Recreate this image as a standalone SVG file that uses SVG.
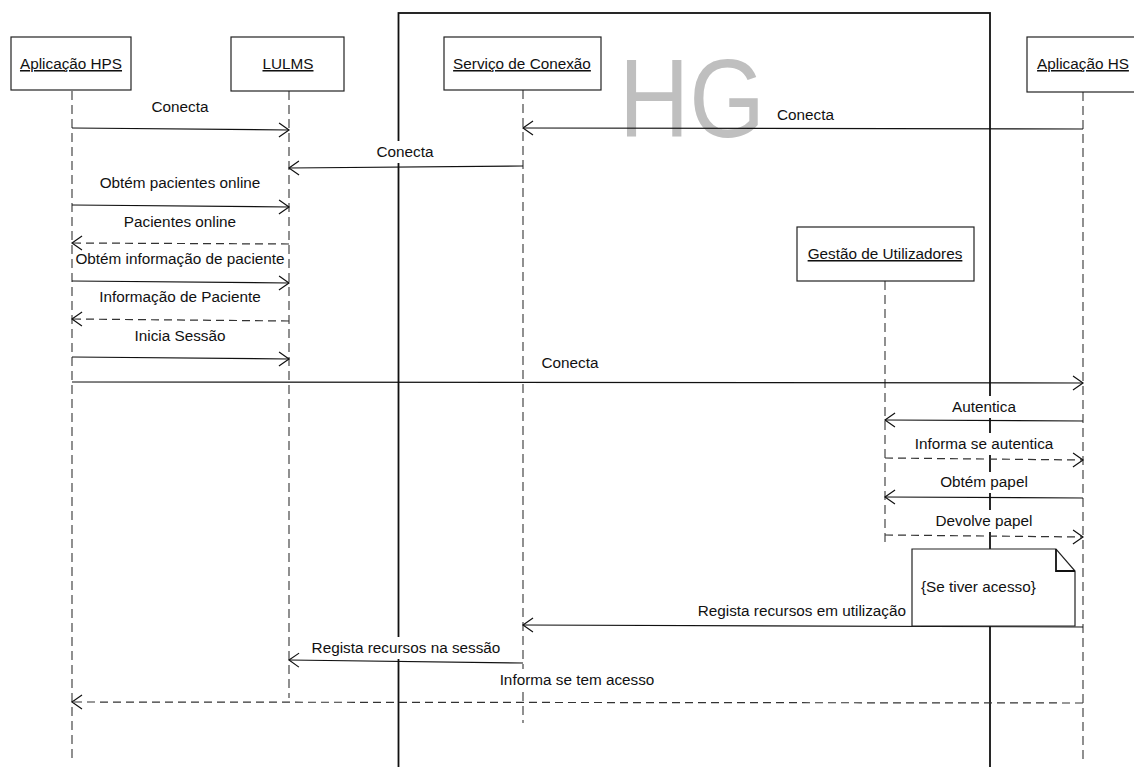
<svg xmlns="http://www.w3.org/2000/svg" width="1134" height="767" viewBox="0 0 1134 767">
  <style>
    text { font-family: "Liberation Sans", Arial, sans-serif; font-size: 15.3px; fill: #111; }
    .mid { text-anchor: middle; }
    .end { text-anchor: end; }
    .box { fill: #fff; stroke: #222; stroke-width: 1.2; }
    .life { stroke: #555; stroke-width: 1.3; stroke-dasharray: 9 5; fill: none; }
    .call { stroke: #111; stroke-width: 1.2; fill: none; marker-end: url(#open); }
    .ret { stroke: #333; stroke-width: 1.2; stroke-dasharray: 8 5; fill: none; marker-end: url(#open); }
    .bg { fill: #fff; }
    .frame { fill: none; stroke: #111; stroke-width: 1.8; }
  </style>
  <defs>
    <marker id="open" markerUnits="userSpaceOnUse" viewBox="-12 -9 14 18" refX="0" refY="0" markerWidth="14" markerHeight="18" orient="auto">
      <path d="M-10,-7 L0,0 L-10,7" fill="none" stroke="#111" stroke-width="1.2" stroke-dasharray="none"/>
    </marker>
  </defs>

  <rect width="1134" height="767" fill="#fff"/>

  <!-- HG boundary frame -->
  <g id="frame-hg">
    <rect class="frame" x="398.5" y="13" width="591.5" height="800"/>
    <text x="619" y="137" font-size="112" style="font-size:112px;fill:#bfbfbf" textLength="146" lengthAdjust="spacingAndGlyphs">HG</text>
  </g>

  <!-- lifelines -->
  <g id="lifelines">
    <line class="life" x1="72" y1="91" x2="72" y2="758"/>
    <line class="life" x1="289" y1="91" x2="289" y2="698"/>
    <line class="life" x1="523" y1="90" x2="523" y2="723"/>
    <line class="life" x1="885" y1="281" x2="885" y2="542"/>
    <line class="life" x1="1083" y1="92" x2="1083" y2="760"/>
  </g>

  <!-- label backgrounds that mask frame and lifelines -->
  <g id="label-masks">
    <rect class="bg" x="768" y="104" width="69" height="22"/>
    <rect class="bg" x="376" y="141" width="58" height="22"/>
    <rect class="bg" x="952" y="396" width="64" height="22"/>
    <rect class="bg" x="914" y="433" width="140" height="22"/>
    <rect class="bg" x="940" y="472" width="88" height="21"/>
    <rect class="bg" x="935" y="510" width="98" height="22"/>
    <rect class="bg" x="310" y="637" width="192" height="22"/>
    <rect class="bg" x="499" y="669" width="157" height="22"/>
  </g>

  <!-- messages -->
  <g id="connectors">
    <line class="call" x1="72" y1="128" x2="289" y2="130"/>
    <line class="call" x1="1083" y1="129" x2="523" y2="128"/>
    <line class="call" x1="523" y1="166" x2="289" y2="168"/>
    <line class="call" x1="72" y1="205" x2="289" y2="207"/>
    <line class="ret" x1="289" y1="244" x2="72" y2="243"/>
    <line class="call" x1="72" y1="281" x2="289" y2="283"/>
    <line class="ret" x1="289" y1="321" x2="72" y2="319"/>
    <line class="call" x1="72" y1="357" x2="289" y2="359"/>
    <line class="call" x1="72" y1="382" x2="1083" y2="383"/>
    <line class="call" x1="1083" y1="421" x2="885" y2="420"/>
    <line class="ret" x1="885" y1="458" x2="1083" y2="460"/>
    <line class="call" x1="1083" y1="498" x2="885" y2="497"/>
    <line class="ret" x1="885" y1="535" x2="1083" y2="537"/>
    <line class="call" x1="1083" y1="627" x2="523" y2="625"/>
    <line class="call" x1="523" y1="663" x2="289" y2="660"/>
    <line class="ret" x1="1083" y1="703" x2="72" y2="702"/>
  </g>

  <!-- message labels -->
  <g id="labels">
    <text class="mid" x="180" y="112">Conecta</text>
    <text x="777" y="120">Conecta</text>
    <text class="mid" x="405" y="157">Conecta</text>
    <text class="mid" x="180" y="188">Obtém pacientes online</text>
    <text class="mid" x="180" y="227">Pacientes online</text>
    <text class="mid" x="180" y="264">Obtém informação de paciente</text>
    <text class="mid" x="180" y="302">Informação de Paciente</text>
    <text class="mid" x="180" y="341">Inicia Sessão</text>
    <text class="mid" x="570" y="368">Conecta</text>
    <text class="mid" x="984" y="412">Autentica</text>
    <text class="mid" x="984" y="449">Informa se autentica</text>
    <text class="mid" x="984" y="487">Obtém papel</text>
    <text class="mid" x="984" y="526">Devolve papel</text>
    <text class="end" x="906" y="616">Regista recursos em utilização</text>
    <text class="mid" x="406" y="653">Regista recursos na sessão</text>
    <text class="mid" x="577" y="685">Informa se tem acesso</text>
  </g>

  <!-- note -->
  <g id="note-acesso">
    <path d="M912,549 L1056,549 L1075,571 L1075,626 L912,626 Z" fill="#fff" stroke="#222" stroke-width="1.2"/>
    <path d="M1056,549 L1056,571 L1075,571" fill="none" stroke="#111" stroke-width="1.8"/>
    <text x="921" y="592">{Se tiver acesso}</text>
  </g>

  <!-- participants -->
  <g id="aplicacao-hps">
    <rect class="box" x="11" y="37" width="120" height="53"/>
    <text class="mid" x="71" y="69" text-decoration="underline">Aplicação HPS</text>
  </g>
  <g id="lulms">
    <rect class="box" x="231" y="37" width="113" height="54"/>
    <text class="mid" x="288" y="69" text-decoration="underline">LULMS</text>
  </g>
  <g id="servico-conexao">
    <rect class="box" x="444" y="37" width="157" height="53"/>
    <text class="mid" x="522" y="69" text-decoration="underline">Serviço de Conexão</text>
  </g>
  <g id="aplicacao-hs">
    <rect class="box" x="1027" y="37" width="113" height="55"/>
    <text class="mid" x="1083" y="69" text-decoration="underline">Aplicação HS</text>
  </g>
  <g id="gestao-utilizadores">
    <rect class="box" x="797" y="227" width="177" height="54"/>
    <text class="mid" x="885" y="259" text-decoration="underline">Gestão de Utilizadores</text>
  </g>
</svg>
